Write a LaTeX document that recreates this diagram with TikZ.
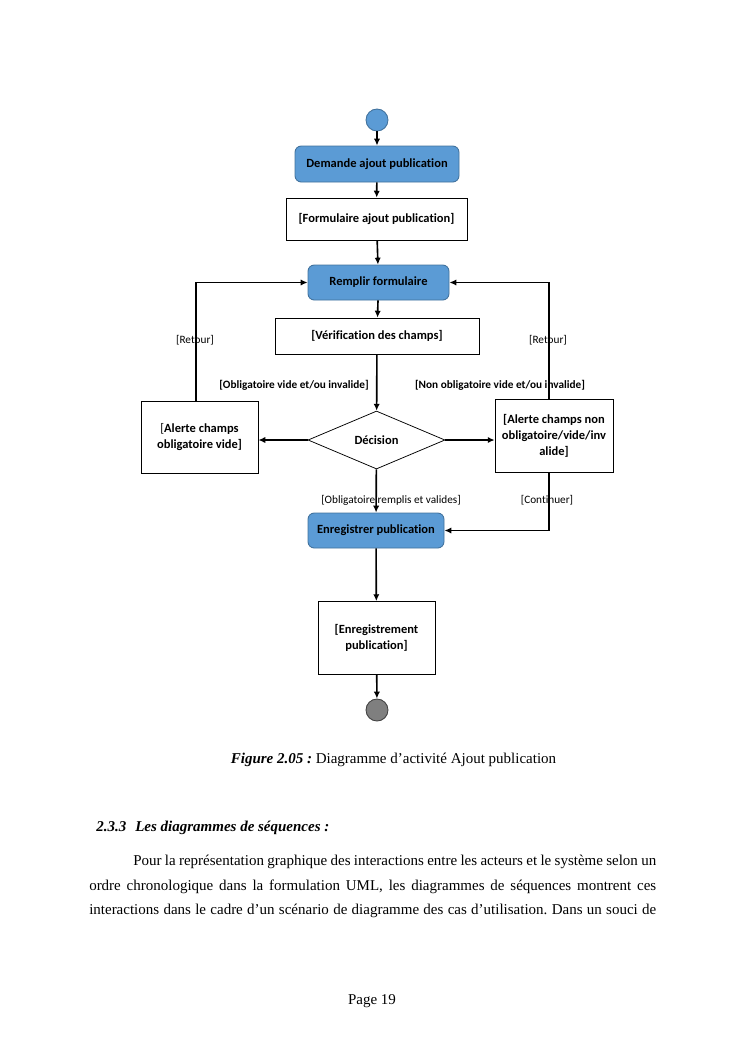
\documentclass[tikz,border=0pt]{standalone}
\usepackage{fontspec}
\setmainfont{Liberation Serif}
\newfontfamily\calibri[Ligatures={NoCommon}]{Carlito}
\usetikzlibrary{arrows.meta,shapes.geometric}
\definecolor{actfill}{HTML}{5B9BD5}
\definecolor{actline}{HTML}{41719C}
\definecolor{endfill}{HTML}{7F7F7F}
\frenchspacing

\begin{document}
\begin{tikzpicture}[x=0.8pt, y=-0.8pt, every node/.style={font=\calibri\fontsize{10}{12.8}\selectfont}]
\useasboundingbox (0,0) rectangle (745,1053);
\tikzstyle{act}=[draw=actline, fill=actfill, line width=0.7pt, rounded corners=5pt, align=center, font=\calibri\bfseries\fontsize{10}{12.8}\selectfont]
\tikzstyle{obj}=[draw, line width=0.6pt, align=center, font=\calibri\bfseries\fontsize{10}{12.8}\selectfont]
\tikzstyle{grd}=[inner sep=0pt, font=\calibri\fontsize{9}{11}\selectfont]
\tikzstyle{grdb}=[inner sep=0pt, font=\calibri\bfseries\fontsize{9}{11}\selectfont]
\tikzstyle{flw}=[line width=1.3pt, -{Latex[length=5.5pt,width=5pt]}]
\tikzstyle{txt}=[inner sep=0pt, anchor=base west, font=\normalfont\fontsize{12}{14}\selectfont]
% diagramme
\node[circle, draw=actline, fill=actfill, line width=0.7pt, minimum size=17.6pt, inner sep=0pt] (start) at (377,120) {};
\node[act, minimum width=131.2pt, minimum height=28.8pt] (dem) at (377,164) {Demande ajout publication};
\node[obj, minimum width=144.8pt, minimum height=33.6pt] (form) at (376.5,219) {[Formulaire ajout publication]};
\node[act, minimum width=112.8pt, minimum height=28pt] (rempl) at (378.5,282.5) {Remplir formulaire};
\node[obj, minimum width=163.2pt, minimum height=28.8pt] (verif) at (377,336) {[Vérification des champs]};
\node[diamond, draw, line width=0.6pt, aspect=2.36, minimum width=109.6pt, minimum height=46.4pt, inner sep=0pt, font=\calibri\bfseries\fontsize{10}{12.8}\selectfont] (dec) at (376.5,440) {Décision};
\node[obj, minimum width=93.6pt, minimum height=57.6pt] (alg) at (199.5,437) {{\mdseries[}Alerte champs\\obligatoire vide]};
\node[obj, minimum width=94.4pt, minimum height=58.4pt] (ald) at (554,436) {[Alerte champs non\\obligatoire/vide/inv\\alide]};
\node[act, minimum width=108.8pt, minimum height=28pt] (enr) at (376,530.5) {Enregistrer publication};
\node[obj, minimum width=93.6pt, minimum height=58.4pt] (enrg) at (376.5,638) {[Enregistrement\\publication]};
\node[circle, draw=black!75, fill=endfill, line width=0.7pt, minimum size=17.6pt, inner sep=0pt] (end) at (377,710) {};
\draw[flw] (start) -- (dem);
\draw[flw] (dem) -- (form);
\draw[flw] (form) -- (rempl);
\draw[flw] (rempl) -- (verif);
\draw[flw] (verif) -- (dec);
\draw[flw] (dec.west) -- (dec.west -| alg.east);
\draw[flw] (dec.east) -- (dec.east -| ald.west);
\draw[flw] ([xshift=-3pt]alg.north) |- (rempl.west);
\draw[flw] ([xshift=-4pt]ald.north) |- (rempl.east);
\draw[flw] (dec) -- (enr);
\draw[flw] ([xshift=-4pt]ald.south) |- (enr.east);
\draw[flw] (enr) -- (enrg);
\draw[flw] (enrg) -- (end);
% gardes
\node[grd] (g1) at (195,340) {[Retour]};
\node[grd] (g2) at (548,340) {[Retour]};
\node[grdb] (g3) at (294,385) {[Obligatoire vide et/ou invalide]};
\node[grdb] (g4) at (500,385) {[Non obligatoire vide et/ou invalide]};
\node[grd] (g5) at (391,500) {[Obligatoire remplis et valides]};
\node[grd] (g6) at (547,500) {[Continuer]};
% texte de la page
\node[inner sep=0pt, anchor=base, font=\normalfont\fontsize{12}{14}\selectfont] (cap) at (393.5,763) {\textbf{\textit{Figure 2.05 :}} Diagramme d’activité Ajout publication};
\node[txt] (sec) at (96,831) {\textbf{\textit{2.3.3\hspace{0.6em}Les diagrammes de séquences :}}};
\node[txt] (l1) at (133,865) {\makebox[418.4pt][s]{Pour la représentation graphique des interactions entre les acteurs et le système selon un}};
\node[txt] (l2) at (89,890) {\makebox[453.6pt][s]{ordre chronologique dans la formulation UML, les diagrammes de séquences montrent ces}};
\node[txt] (l3) at (89,914) {\makebox[453.6pt][s]{interactions dans le cadre d’un scénario de diagramme des cas d’utilisation. Dans un souci de}};
\node[inner sep=0pt, anchor=base, font=\normalfont\fontsize{12}{14}\selectfont] (pg) at (372,1004) {Page 19};
\end{tikzpicture}
\end{document}
